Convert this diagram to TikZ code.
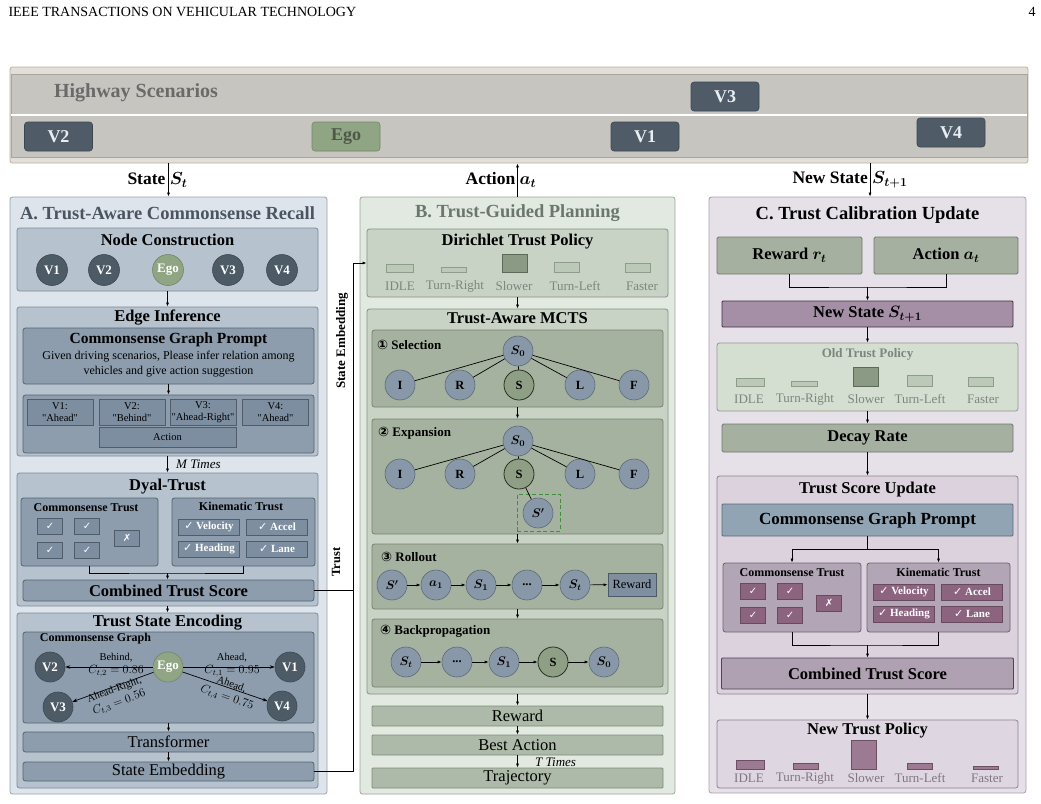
\RequirePackage{fix-cm}
\documentclass[tikz,border=0pt]{standalone}
\usepackage{amsmath,bm}
\usepackage{fontspec}
\setmainfont{Liberation Serif}
\newfontfamily\symfont{DejaVu Sans}
\usetikzlibrary{fit,arrows.meta}

\newcommand{\setfs}[2]{\fontsize{#1}{#2}\selectfont}
\newcommand{\treedots}{...}
\newcommand{\cval}[1]{{\setfs{12}{13}$#1$}}

%% highway colours
\definecolor{roadOuter}{HTML}{E3DED7}
\definecolor{roadOuterLine}{HTML}{B8B0A5}
\definecolor{roadGrey}{HTML}{C6C5BF}
\definecolor{roadLine}{HTML}{A9A59E}
\definecolor{carDark}{HTML}{4F5C68}
\definecolor{carLine}{HTML}{3C4752}
\definecolor{carText}{HTML}{E9EEF2}
\definecolor{egoFill}{HTML}{8FA583}
\definecolor{egoLine}{HTML}{718766}
\definecolor{egoText}{HTML}{4E5849}
\definecolor{hwText}{HTML}{6A6A6A}
%% panel A colours
\definecolor{panelAfill}{HTML}{DDE4EB}
\definecolor{panelAline}{HTML}{98A2AC}
\definecolor{titleA}{HTML}{4A5561}
\definecolor{boxAonefill}{HTML}{B6C3CF}
\definecolor{boxAoneline}{HTML}{7F8B97}
\definecolor{boxAtwofill}{HTML}{8D9DAE}
\definecolor{boxAtwoline}{HTML}{56636F}
\definecolor{boxAthreefill}{HTML}{7D8EA0}
\definecolor{boxAthreeline}{HTML}{4F5C69}
\definecolor{vnodeFill}{HTML}{4D5B67}
%% panel B colours
\definecolor{panelBfill}{HTML}{E1E9E0}
\definecolor{panelBline}{HTML}{9AA69A}
\definecolor{titleB}{HTML}{6B776B}
\definecolor{boxBfill}{HTML}{C8D3C5}
\definecolor{boxBline}{HTML}{859283}
\definecolor{stageFill}{HTML}{A6B2A0}
\definecolor{stageLine}{HTML}{76836F}
\definecolor{tnodeFill}{HTML}{8898A9}
\definecolor{tnodeLine}{HTML}{5D6A77}
\definecolor{sFill}{HTML}{8F9F86}
\definecolor{sLine}{HTML}{26301F}
\definecolor{rewFill}{HTML}{7F8FA0}
\definecolor{rewLine}{HTML}{4C5966}
\definecolor{stepFill}{HTML}{AEBAA9}
\definecolor{stepLine}{HTML}{7F8C7B}
\definecolor{barBfill}{HTML}{BCC8B8}
\definecolor{barBline}{HTML}{8E9C8B}
\definecolor{barBhiFill}{HTML}{8A9A85}
\definecolor{barBhiLine}{HTML}{5B6B57}
\definecolor{barLab}{HTML}{7C877C}
\definecolor{dashGreen}{HTML}{3F8F3F}
%% panel C colours
\definecolor{panelCfill}{HTML}{E6E0E9}
\definecolor{panelCline}{HTML}{A99FAD}
\definecolor{greyGreenFill}{HTML}{A5B0A1}
\definecolor{greyGreenLine}{HTML}{6F7A6C}
\definecolor{nsFill}{HTML}{A58FA6}
\definecolor{nsLine}{HTML}{3B3140}
\definecolor{oldFill}{HTML}{D4DFD2}
\definecolor{oldLine}{HTML}{8F9B8D}
\definecolor{oldTitle}{HTML}{7D867D}
\definecolor{tsuFill}{HTML}{DBD2DD}
\definecolor{tsuLine}{HTML}{8E8393}
\definecolor{cgpFill}{HTML}{90A4B4}
\definecolor{cgpLine}{HTML}{5A6B79}
\definecolor{trustCfill}{HTML}{B2A5B5}
\definecolor{trustCline}{HTML}{6E6272}
\definecolor{chkCfill}{HTML}{8C6480}
\definecolor{chkCline}{HTML}{684A5F}
\definecolor{combCfill}{HTML}{AFA1B2}
\definecolor{combCline}{HTML}{4E4452}
\definecolor{npFill}{HTML}{DED6E0}
\definecolor{npLine}{HTML}{8E8392}
\definecolor{barCfill}{HTML}{9C7A93}
\definecolor{barCline}{HTML}{6B4F63}

\begin{document}
\begin{tikzpicture}
[x=1pt,y=-1pt,
  arr/.style={-{Latex[length=4pt,width=3pt]},line width=0.7pt},%
  link/.style={line width=0.7pt},%
  fitbox/.style={inner sep=0pt,rounded corners=2.5pt,line width=0.8pt},%
  wide/.style={rectangle,fitbox,minimum width=291pt},%
  hdr/.style={font=\setfs{14}{16}},%
  carbox/.style={rectangle,rounded corners=3pt,minimum width=68pt,minimum height=29pt,inner sep=0pt,
    fill=carDark,draw=carLine,line width=0.6pt,text=carText,font=\setfs{18}{20}\bfseries},%
  egocar/.style={fill=egoFill,draw=egoLine,text=egoText},%
  iolabel/.style={font=\setfs{17.5}{20}\bfseries},%
  ptitle/.style={font=\setfs{18.5}{21}\bfseries},%
  head/.style={font=\setfs{16.5}{19}\bfseries},%
  subhead/.style={font=\setfs{12}{14}\bfseries},%
  plain/.style={font=\setfs{16.5}{19}},%
  panelA/.style={fitbox,fill=panelAfill,draw=panelAline},%
  boxAone/.style={fitbox,fill=boxAonefill,draw=boxAoneline},%
  boxAtwo/.style={fitbox,fill=boxAtwofill,draw=boxAtwoline},%
  boxAthree/.style={rectangle,inner sep=0pt,fill=boxAthreefill,draw=boxAthreeline,line width=0.7pt},%
  vnode/.style={circle,minimum size=31pt,inner sep=0pt,fill=vnodeFill,draw=vnodeFill!80!black,
    line width=0.6pt,text=white,font=\setfs{13}{15}\bfseries},%
  egonode/.style={fill=egoFill,draw=egoLine},%
  chkA/.style={boxAthree,minimum width=25pt,minimum height=16pt,text=white,font={\symfont\setfs{10}{12}}},%
  kinA/.style={boxAthree,minimum width=61pt,minimum height=16pt,text=white,font=\setfs{11}{13}\bfseries},%
  garr/.style={-{Stealth[length=5pt,width=3.5pt]},line width=0.7pt},%
  elab/.style={font=\setfs{10.5}{13},align=center,inner sep=0pt},%
  panelB/.style={fitbox,fill=panelBfill,draw=panelBline},%
  boxB/.style={fitbox,fill=boxBfill,draw=boxBline},%
  stageB/.style={fitbox,fill=stageFill,draw=stageLine},%
  stepB/.style={wide,rounded corners=1pt,minimum height=20pt,fill=stepFill,draw=stepLine,font=\setfs{16.5}{19}},%
  tnode/.style={circle,minimum size=30pt,inner sep=0pt,fill=tnodeFill,draw=tnodeLine,
    line width=0.6pt,font=\setfs{12.5}{14}\bfseries},%
  snode/.style={tnode,fill=sFill,draw=sLine,line width=0.8pt},%
  stagelab/.style={anchor=west,inner sep=0pt,font=\setfs{13}{15}\bfseries},%
  barB/.style={fill=barBfill,draw=barBline,line width=0.6pt},%
  barBhi/.style={fill=barBhiFill,draw=barBhiLine,line width=0.9pt},%
  barlab/.style={text=barLab,font=\setfs{13}{15}},%
  panelC/.style={fitbox,fill=panelCfill,draw=panelCline},%
  boxCg/.style={rectangle,fitbox,rounded corners=1.5pt,fill=greyGreenFill,draw=greyGreenLine,font=\setfs{16.5}{19}\bfseries},%
  chkC/.style={rectangle,inner sep=0pt,fill=chkCfill,draw=chkCline,line width=0.7pt,
    minimum width=25pt,minimum height=16pt,text=white,font={\symfont\setfs{10}{12}}},%
  kinC/.style={chkC,minimum width=61pt,font=\setfs{11}{13}\bfseries},%
  barC/.style={fill=barCfill,draw=barCline,line width=0.6pt}]

\useasboundingbox (0,0) rectangle (1041,803);

%% page header
\node[hdr,anchor=west] (header) at (5,12) {IEEE TRANSACTIONS ON VEHICULAR TECHNOLOGY};
\node[hdr] (pageno) at (1032,12) {4};

%% highway scenario
\node[fitbox,fill=roadOuter,draw=roadOuterLine,fit={(10,67)(1028,163)}] (highway) {};
\draw[fill=roadGrey,draw=roadLine,line width=0.6pt] (11,74) rectangle (1027,157);
\draw[white,line width=2pt] (11,114.5) -- (1027,114.5);
\node[font=\setfs{20}{22}\bfseries,text=hwText] (hwtitle) at (136,93) {Highway Scenarios};
\foreach \name/\x/\y in {V2/58.5/136.5, V1/645/136.5, V3/725/96.5, V4/951/132.5}
{
  \node[carbox] (car\name) at (\x,\y) {\name};
}
\node[carbox,egocar] (carEgo) at (346,136.5) {Ego};

%% ---------------- A. Trust-Aware Commonsense Recall
\node[panelA,fit={(10,197)(327,794)}] (panelA) {};
\node[ptitle,text=titleA] (titleA) at (167.5,213) {A. Trust-Aware Commonsense Recall};

%% node construction
\node[boxAone,fit={(17,228)(318,291)}] (nodecons) {};
\node[head] (nodeconsT) at (167.5,240) {Node Construction};
\foreach \name/\x in {V1/52, V2/104, V3/228, V4/282}
{
  \node[vnode] (nc\name) at (\x,270) {\name};
}
\node[vnode,egonode] (ncEgo) at (168,270) {Ego};

%% edge inference
\node[boxAone,fit={(17,307)(318,456)}] (edgeinf) {};
\node[head] (edgeinfT) at (167.5,318) {Edge Inference};
\node[boxAtwo,fit={(23,328)(314,384)}] (promptA) {};
\node[font=\setfs{15.5}{18}\bfseries] (promptAT) at (168.5,340) {Commonsense Graph Prompt};
\node[font=\setfs{12}{15},align=center] (promptAtxt) at (168.5,364.5)
  {Given driving scenarios, Please infer relation among\\vehicles and give action suggestion};
\node[boxAtwo,fit={(23,395)(314,453)}] (suggA) {};
\foreach \name/\x/\rel in {V1/60/Ahead, V2/132/Behind, V3/203/Ahead-Right, V4/275.5/Ahead}
{
  \node[boxAthree,minimum width=66pt,minimum height=26pt,align=center,
    font=\setfs{10.5}{12}] (sug\name) at (\x,412) {\name:\\\textquotedbl\rel\textquotedbl};
}
\node[boxAthree,minimum width=137pt,minimum height=20pt,font=\setfs{10.5}{12}] (sugAct) at (167.5,437) {Action};

%% dyal-trust
\node[boxAone,fit={(17,473)(318,606)}] (dyal) {};
\node[head] (dyalT) at (167.5,487) {Dyal-Trust};
\node[boxAtwo,fit={(21,498)(158,566)}] (cstA) {};
\node[subhead] (cstAT) at (86,508) {Commonsense Trust};
\foreach \x/\y/\s in {50/526/✓, 87/526/✓, 50/550/✓, 87/550/✓, 127/538/✗}
{
  \node[chkA] (ckA\x\y) at (\x,\y) {\s};
}
\node[boxAtwo,fit={(172,498)(315,566)}] (ktA) {};
\node[subhead] (ktAT) at (241,506) {Kinematic Trust};
\foreach \name/\x/\y in {Velocity/209/527, Accel/277/527, Heading/209/549, Lane/277/549}
{
  \node[kinA] (kA\name) at (\x,\y) {{\symfont ✓}~\name};
}
\node[boxAtwo,wide,minimum height=21pt,head] (combA) at (168.5,590.5) {Combined Trust Score};
\coordinate (joinA) at (167.5,573);
\draw[link] (cstA.south) |- (joinA) -| (ktA.south);
\draw[arr] (joinA) -- (combA.north -| joinA);

%% trust state encoding
\node[boxAone,fit={(17,613)(318,788)}] (tse) {};
\node[head] (tseT) at (167.5,623) {Trust State Encoding};
\node[boxAtwo,fit={(23,632)(314,723)}] (cgA) {};
\node[subhead] (cgAT) at (95.5,639) {Commonsense Graph};
\node[vnode,minimum size=30pt] (gV2) at (50,667) {V2};
\node[vnode,minimum size=30pt] (gV1) at (290,667) {V1};
\node[vnode,minimum size=30pt] (gV3) at (58,707) {V3};
\node[vnode,minimum size=30pt] (gV4) at (282,706) {V4};
\node[vnode,egonode,minimum size=30pt] (gEgo) at (168,667) {Ego};
\foreach \target in {gV1, gV2, gV3, gV4}
{
  \draw[garr] (gEgo) -- (\target);
}
\node[elab] (eV2) at (116,665.5) {Behind,\\\cval{C_{t,2}=0.86}};
\node[elab] (eV1) at (232,665.5) {Ahead,\\\cval{C_{t,1}=0.95}};
\node[elab,rotate=20] (eV3) at (117,697) {Ahead-Right,\\[1pt]\cval{C_{t,3}=0.56}};
\node[elab,rotate=-19] (eV4) at (229,692) {Ahead,\\[1pt]\cval{C_{t,4}=0.75}};
\node[boxAtwo,wide,minimum height=20pt,plain] (transf) at (168.5,742) {Transformer};
\node[boxAtwo,wide,minimum height=19pt,plain] (stemb) at (168.5,771.5) {State Embedding};

%% flow in A
\draw[arr] (nodecons.south) -- (edgeinf.north);
\draw[arr] (promptA.south) -- (suggA.north);
\draw[arr] (edgeinf.south) -- node[anchor=west,xshift=5pt,font=\setfs{13}{15}\itshape] (mtimes) {M Times} (dyal.north);
\draw[arr] (dyal.south) -- (tse.north);
\draw[arr] (cgA.south) -- (cgA.south |- transf.north);
\draw[arr] (transf.south -| cgA.south) -- (cgA.south |- stemb.north);

%% ---------------- B. Trust-Guided Planning
\node[panelB,fit={(360,197)(675,794)}] (panelB) {};
\node[ptitle,text=titleB] (titleB) at (517.5,213) {B. Trust-Guided Planning};

%% dirichlet policy
\node[boxB,fit={(367,229)(668,297)}] (dirich) {};
\node[head] (dirichT) at (517.5,242) {Dirichlet Trust Policy};
\foreach \lab/\xa/\xb/\ya/\xl/\st in {IDLE/386/413/264/400/barB, Turn-Right/441/466/267/455/barB,
  Slower/502/527/254/514/barBhi, Turn-Left/554/579/262/575/barB, Faster/625/650/263/642/barB}
{
  \draw[\st] (\xa,\ya) rectangle (\xb,272);
  \node[barlab] (polB\lab) at (\xl,286) {\lab};
}

%% trust-aware mcts
\node[boxB,fit={(367,309)(668,694)}] (mcts) {};
\node[head] (mctsT) at (517.5,318) {Trust-Aware MCTS};

%% selection
\node[stageB,fit={(372,330)(663,407)}] (selB) {};
\node[stagelab] (selT) at (377,345) {{\symfont ①} Selection};
\node[tnode] (selS0) at (518,351) {$\boldsymbol{S_0}$};
\foreach \name/\x in {I/400, R/460, L/580, F/634}
{
  \node[tnode] (sel\name) at (\x,385) {\name};
  \draw[link] (selS0) -- (sel\name);
}
\node[snode] (selS) at (519,385) {S};
\draw[link] (selS0) -- (selS);

%% expansion
\node[stageB,fit={(372,419)(663,534)}] (expB) {};
\node[stagelab] (expT) at (378,433) {{\symfont ②} Expansion};
\node[tnode] (expS0) at (518,441) {$\boldsymbol{S_0}$};
\foreach \name/\x in {I/400, R/460, L/580, F/634}
{
  \node[tnode] (exp\name) at (\x,474) {\name};
  \draw[link] (expS0) -- (exp\name);
}
\node[snode] (expS) at (519,474) {S};
\draw[link] (expS0) -- (expS);
\node[draw=dashGreen,line width=1pt,dash pattern=on 4pt off 2.5pt,inner sep=0pt,
  fit={(517,494)(560,531)}] (expNew) {};
\node[tnode] (expSp) at (538,513) {$\boldsymbol{S'}$};
\draw[link] (expS) -- (expSp);

%% rollout
\node[stageB,fit={(372,544)(663,609)}] (rollB) {};
\node[stagelab] (rollT) at (381,557) {{\symfont ③} Rollout};
\foreach \name/\x/\txt in {rA/392/$\boldsymbol{S'}$, rB/436/$\boldsymbol{a_1}$, rC/481/$\boldsymbol{S_1}$,
  rD/527/\treedots, rE/575/$\boldsymbol{S_t}$}
{
  \node[tnode] (\name) at (\x,585) {\txt};
}
\node[rectangle,inner sep=0pt,minimum width=48pt,minimum height=23pt,fill=rewFill,draw=rewLine,
  line width=0.8pt,font=\setfs{12.5}{14}] (rF) at (632,584.5) {Reward};
\foreach \a/\b in {rA/rB, rB/rC, rC/rD, rD/rE, rE/rF}
{
  \draw[arr] (\a) -- (\b);
}

%% backpropagation
\node[stageB,fit={(372,619)(663,687)}] (backB) {};
\node[stagelab] (backT) at (380,631) {{\symfont ④} Backpropagation};
\foreach \name/\x/\txt in {bA/406/$\boldsymbol{S_t}$, bB/457/\treedots, bC/504/$\boldsymbol{S_1}$, bE/604/$\boldsymbol{S_0}$}
{
  \node[tnode] (\name) at (\x,662) {\txt};
}
\node[snode] (bD) at (553,662) {S};
\foreach \a/\b in {bA/bB, bB/bC, bC/bD, bD/bE}
{
  \draw[arr] (\a) -- (\b);
}

%% reward, best action, trajectory
\node[stepB] (rewB) at (517.5,716) {Reward};
\node[stepB] (bestB) at (517.5,745) {Best Action};
\node[stepB] (trajB) at (517.5,778) {Trajectory};

%% flow in B
\draw[arr] (dirich.south) -- (mcts.north);
\draw[arr] (selB.south) -- (expB.north);
\draw[arr] (expB.south) -- (rollB.north);
\draw[arr] (rollB.south) -- (backB.north);
\draw[arr] (mcts.south) -- (rewB.north);
\draw[arr] (rewB.south) -- (bestB.north);
\draw[arr] (bestB.south) -- node[anchor=west,xshift=14pt,yshift=-1pt,font=\setfs{13}{15}\itshape] (ttimes) {T Times} (trajB.north);

%% ---------------- C. Trust Calibration Update
\node[panelC,fit={(709,197)(1026,793)}] (panelC) {};
\node[ptitle] (titleC) at (867.5,215) {C. Trust Calibration Update};
\node[boxCg,minimum width=145pt,minimum height=37pt] (rewC) at (789.5,255.5) {Reward $\boldsymbol{r_t}$};
\node[boxCg,minimum width=144pt,minimum height=37pt] (actC) at (946,255.5) {Action $\boldsymbol{a_t}$};
\coordinate (joinCa) at (867.5,287);
\draw[link] (rewC.south) |- (joinCa) -| (actC.south);
\node[wide,rounded corners=1pt,minimum height=26pt,fill=nsFill,draw=nsLine,head] (nsC) at (867.5,314) {New State $\boldsymbol{S_{t+1}}$};
\draw[arr] (joinCa) -- (nsC.north);

%% old trust policy
\node[fitbox,fill=oldFill,draw=oldLine,fit={(717,343)(1018,411)}] (oldC) {};
\node[font=\setfs{13}{15}\bfseries,text=oldTitle] (oldCT) at (867.5,354) {Old Trust Policy};
\foreach \lab/\xa/\xb/\ya/\xl/\st in {IDLE/736/764/378/749/barB, Turn-Right/791/817/381/805/barB,
  Slower/853/878/367/866/barBhi, Turn-Left/907/932/375/920/barB, Faster/968/993/377/983/barB}
{
  \draw[\st] (\xa,\ya) rectangle (\xb,386);
  \node[barlab] (polO\lab) at (\xl,399) {\lab};
}
\node[boxCg,minimum width=291pt,minimum height=28pt] (decC) at (867.5,438) {Decay Rate};

%% trust score update
\node[fitbox,fill=tsuFill,draw=tsuLine,fit={(717,476)(1018,694)}] (tsuC) {};
\node[head] (tsuCT) at (867.5,490) {Trust Score Update};
\node[wide,rounded corners=1pt,minimum height=32pt,fill=cgpFill,draw=cgpLine,
  font=\setfs{17}{19}\bfseries] (cgpC) at (867.5,520) {Commonsense Graph Prompt};
\node[fitbox,fill=trustCfill,draw=trustCline,fit={(723,563)(861,632)}] (cstC) {};
\node[subhead] (cstCT) at (792,573) {Commonsense Trust};
\foreach \x/\y/\s in {753/591/✓, 790/591/✓, 753/615/✓, 790/615/✓, 829/603/✗}
{
  \node[chkC] (ckC\x\y) at (\x,\y) {\s};
}
\node[fitbox,fill=trustCfill,draw=trustCline,fit={(867,563)(1010,632)}] (ktC) {};
\node[subhead] (ktCT) at (938.5,572) {Kinematic Trust};
\foreach \name/\x/\y in {Velocity/904/592, Accel/972/592, Heading/904/614, Lane/972/614}
{
  \node[kinC] (kC\name) at (\x,\y) {{\symfont ✓}~\name};
}
\coordinate (splitC) at (867.5,549);
\draw[link] (cgpC.south) -- (splitC);
\draw[arr] (splitC) -| (cstC.north);
\draw[arr] (splitC) -| (ktC.north);
\node[wide,rounded corners=1pt,minimum width=292pt,minimum height=31pt,fill=combCfill,draw=combCline,head] (combC) at (867.5,673.5) {Combined Trust Score};
\coordinate (joinCb) at (867.5,645);
\draw[link] (cstC.south) |- (joinCb) -| (ktC.south);
\draw[arr] (joinCb) -- (combC.north);

%% new trust policy
\node[fitbox,fill=npFill,draw=npLine,fit={(717,720)(1018,788)}] (npC) {};
\node[head] (npCT) at (867.5,731) {New Trust Policy};
\foreach \lab/\xa/\xb/\ya/\xl in {IDLE/736/764/760/749, Turn-Right/793/818/763/805,
  Slower/851/876/740/866, Turn-Left/907/932/763/920, Faster/973/998/766.5/987}
{
  \draw[barC] (\xa,\ya) rectangle (\xb,769);
  \node[barlab,text=npLine!90!black] (polN\lab) at (\xl,778) {\lab};
}

%% flow in C
\draw[arr] (nsC.south) -- (oldC.north);
\draw[arr] (oldC.south) -- (decC.north);
\draw[arr] (decC.south) -- (tsuC.north);
\draw[arr] (tsuC.south) -- (npC.north);

%% between highway and panels
\draw[arr] (panelA.north |- highway.south) -- (panelA.north);
\draw[arr] (panelB.north) -- (panelB.north |- highway.south);
\draw[arr] (870,0 |- highway.south) -- (870,0 |- panelC.north);
\node[iolabel] (stateLbl) at (157.5,180) {State~$\boldsymbol{S_t}$};
\node[iolabel] (actionLbl) at (501,180) {Action~$\boldsymbol{a_t}$};
\node[iolabel] (newLbl) at (850,180) {New State~$\boldsymbol{S_{t+1}}$};

%% state embedding and trust into planning
\coordinate (busTop) at (353,263);
\coordinate (busBot) at (353,771.5);
\draw[link] (stemb.east) -- (busBot) -- (busTop);
\draw[arr] (busTop) -- (dirich.west);
\draw[link] (combA.east) -- (combA.east -| busTop);
\node[rotate=90,font=\setfs{13}{15}\bfseries] (embLbl) at (342,341) {State Embedding};
\node[rotate=90,font=\setfs{12.5}{14}\bfseries] (trustLbl) at (336,562) {Trust};
\end{tikzpicture}
\end{document}
